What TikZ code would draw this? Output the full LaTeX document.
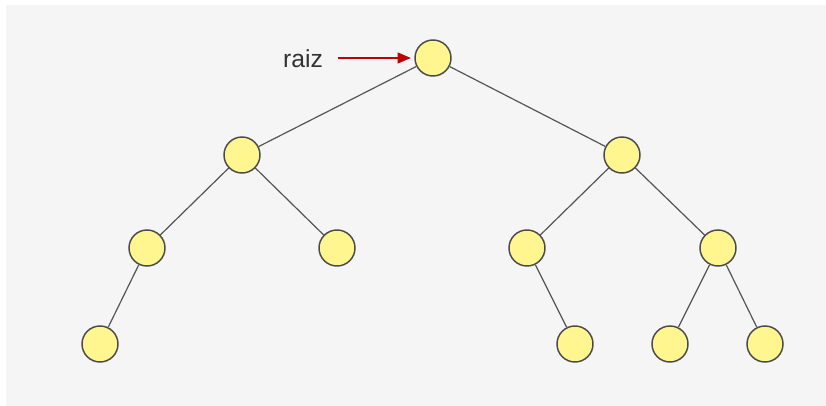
\documentclass[tikz,border=0pt]{standalone}
\usepackage{fontspec}
\setmainfont{Liberation Sans}
\usetikzlibrary{arrows.meta}
\definecolor{panel}{HTML}{F5F5F5}
\definecolor{nodefill}{HTML}{FFF68F}
\definecolor{nodeline}{HTML}{4A4A4A}
\definecolor{edgeline}{HTML}{555555}
\definecolor{pointer}{HTML}{C00000}
\definecolor{labeltext}{HTML}{333333}
\begin{document}
\begin{tikzpicture}[x=0.75pt,y=-0.75pt,
  treenode/.style={circle,draw=nodeline,fill=nodefill,line width=1.1pt,
    minimum size=27pt,inner sep=0pt},
  edge/.style={draw=edgeline,line width=0.9pt},
  pointerarrow/.style={draw=pointer,line width=1.6pt,
    -{Triangle[length=10pt,width=8pt]}},
  tag/.style={text=labeltext,font=\fontsize{18.5}{20}\selectfont,inner sep=0pt}]
  % background panel
  \useasboundingbox (0,0) rectangle (826,406);
  \fill[panel] (6,5) rectangle (826,406);

  % nodes
  \node[treenode] (r)   at (433,58)  {};
  \node[treenode] (l)   at (242,155) {};
  \node[treenode] (rr)  at (622,155) {};
  \node[treenode] (ll)  at (147,248) {};
  \node[treenode] (lr)  at (337,248) {};
  \node[treenode] (rl)  at (527,248) {};
  \node[treenode] (rrr) at (718,248) {};
  \node[treenode] (lll) at (100,344) {};
  \node[treenode] (rlr) at (575,344) {};
  \node[treenode] (rrl) at (670,344) {};
  \node[treenode] (rr4) at (765,344) {};

  % edges
  \draw[edge] (r) -- (l);
  \draw[edge] (r) -- (rr);
  \draw[edge] (l) -- (ll);
  \draw[edge] (l) -- (lr);
  \draw[edge] (rr) -- (rl);
  \draw[edge] (rr) -- (rrr);
  \draw[edge] (ll) -- (lll);
  \draw[edge] (rl) -- (rlr);
  \draw[edge] (rrr) -- (rrl);
  \draw[edge] (rrr) -- (rr4);

  % root label and pointer
  \node[tag,anchor=base] (lbl) at (303,68) {raiz};
  \coordinate (ptail) at (338,58);
  \draw[pointerarrow] (ptail) -- ([xshift=-2.5pt]r.west);
\end{tikzpicture}
\end{document}
